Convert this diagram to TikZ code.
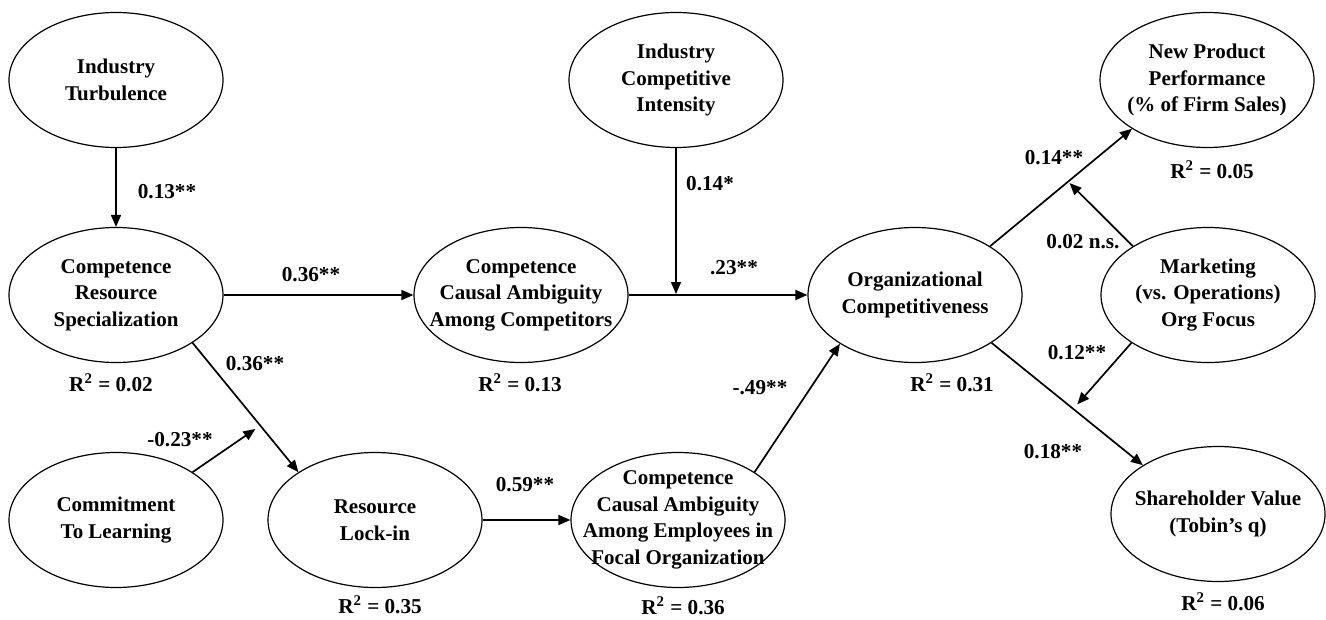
\documentclass[tikz,border=0pt]{standalone}
\usepackage{fontspec}
\setmainfont{Liberation Serif}
\usetikzlibrary{shapes.geometric,arrows.meta,calc}
\begin{document}
\begin{tikzpicture}[x=0.5pt,y=-0.5pt,
  ell/.style={draw, ellipse, line width=0.6pt, minimum width=107pt, minimum height=67.5pt, inner sep=0pt},
  txt/.style={align=center, font=\fontsize{10.5}{13.3}\selectfont\bfseries, inner sep=0pt},
  lab/.style={font=\fontsize{10.6}{12}\selectfont\bfseries, inner sep=0pt},
  arr/.style={line width=0.85pt, -{Triangle[length=6pt,width=5pt]}},
]
\useasboundingbox (0,0) rectangle (1326,620);
% ellipses
\node[ell] (it) at (116,80) {};
\node[ell] (crs) at (116,295) {};
\node[ell] (ctl) at (116,520) {};
\node[ell] (rli) at (375,520) {};
\node[ell] (cca1) at (521,295) {};
\node[ell] (ici) at (676,80) {};
\node[ell] (cca2) at (678,520) {};
\node[ell] (oc) at (915,295) {};
\node[ell] (npp) at (1207,80) {};
\node[ell] (mkt) at (1208,295) {};
\node[ell] (sv) at (1218,514) {};
% texts
\node[txt] (tit) at (it) {Industry\\Turbulence};
\node[txt] (tcrs) at (crs) {Competence\\Resource\\Specialization};
\node[txt] (tctl) at (ctl) {Commitment\\To Learning};
\node[txt] (trli) at (rli) {Resource\\Lock-in};
\node[txt] (tcca1) at (cca1) {Competence\\Causal Ambiguity\\Among Competitors};
\node[txt] (tici) at (ici) {Industry\\Competitive\\Intensity};
\node[txt] (tcca2) at (cca2) {Competence\\Causal Ambiguity\\Among Employees in\\Focal Organization};
\node[txt] (toc) at (oc) {Organizational\\Competitiveness};
\node[txt] (tnpp) at (npp) {New Product\\Performance\\(\% of Firm Sales)};
\node[txt] (tmkt) at (mkt) {Marketing\\(vs. Operations)\\Org Focus};
\node[txt] (tsv) at (sv) {Shareholder Value\\(Tobin’s q)};
% R squared
\node[lab] (r1) at (111,383) {R\textsuperscript{2} = 0.02};
\node[lab] (r2) at (380,605) {R\textsuperscript{2} = 0.35};
\node[lab] (r3) at (520,383) {R\textsuperscript{2} = 0.13};
\node[lab] (r4) at (683,606) {R\textsuperscript{2} = 0.36};
\node[lab] (r5) at (952,383) {R\textsuperscript{2} = 0.31};
\node[lab] (r6) at (1212,170) {R\textsuperscript{2} = 0.05};
\node[lab] (r7) at (1223,602) {R\textsuperscript{2} = 0.06};
% connectors
\draw[arr] (it.south) -- (crs.north);
\draw[arr] (crs.east) -- (cca1.west);
\draw[arr] (crs.-32) -- coordinate[pos=0.64] (m1) (rli.148);
\draw[arr, shorten >=3pt] (ctl.32) -- (m1);
\draw[arr] (rli.east) -- (cca2.west);
\draw[arr] (cca2.32) -- (oc.213);
\draw[arr] (cca1.east) -- (oc.west);
\coordinate (m2) at (ici.south |- cca1.east);
\draw[arr, shorten >=0.5pt] (ici.south) -- (m2);
\draw[arr] (oc.33) -- coordinate[pos=0.55] (m3) (npp.213);
\draw[arr, shorten >=1pt] (mkt.147) -- (m3);
\draw[arr] (oc.-32) -- coordinate[pos=0.54] (m4) (sv.147);
\draw[arr, shorten >=3pt] (mkt.212) -- (m4);
% path labels
\node[lab] (l1) at (167,192) {0.13**};
\node[lab] (l2) at (311,275) {0.36**};
\node[lab] (l3) at (255,364) {0.36**};
\node[lab] (l4) at (180,440) {-0.23**};
\node[lab] (l5) at (525,485) {0.59**};
\node[lab] (l6) at (760,388) {-.49**};
\node[lab] (l7) at (734,268) {.23**};
\node[lab] (l8) at (710,184) {0.14*};
\node[lab] (l9) at (1054,158) {0.14**};
\node[lab] (l10) at (1083,242) {0.02 n.s.};
\node[lab] (l11) at (1053,452) {0.18**};
\node[lab] (l12) at (1077,353) {0.12**};
\end{tikzpicture}
\end{document}
